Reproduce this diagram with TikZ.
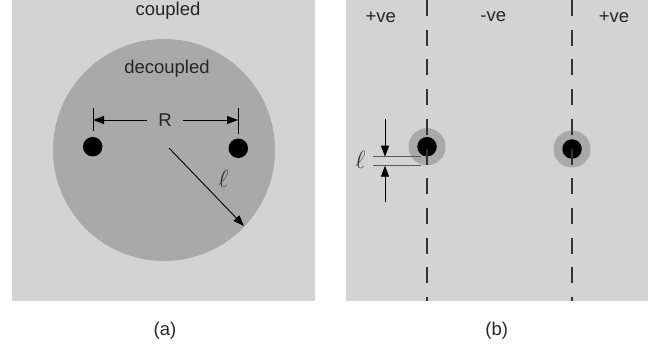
\documentclass[tikz,border=0pt]{standalone}
\usepackage{fontspec}
\setmainfont{Liberation Sans}
\usetikzlibrary{arrows.meta}

\definecolor{lightbg}{HTML}{D3D3D3}
\definecolor{darkbg}{HTML}{A9A9A9}

\tikzset{
  dot/.style={circle,fill=black,inner sep=0pt,minimum size=19.5pt},
  halo/.style={circle,fill=darkbg,inner sep=0pt,minimum size=37pt},
  dimarrow/.style={-{Triangle[length=11pt,width=8pt]},line width=0.9pt},
  txt/.style={font=\fontsize{18.5}{22}\selectfont,text=black!85},
  ell/.style={font=\fontsize{32}{36}\selectfont,text=black!80},
}

\begin{document}
\begin{tikzpicture}[x=1pt,y=-1pt]
\useasboundingbox (0,0) rectangle (663,356);

% (a) coupled / decoupled
\fill[lightbg] (12,0) rectangle (315,301);
\fill[darkbg] (164,150) circle (111);

\node[txt] (cpl) at (168,11) {coupled};
\node[txt] (dcpl) at (167,69) {decoupled};

\node[dot] (qa) at (92.7,146.7) {};
\node[dot] (qb) at (238.3,148.3) {};

% R
\draw[line width=0.9pt] (93,108) coordinate (ta) -- (93,131);
\draw[line width=0.9pt] (238,108) -- (238,134);
\coordinate (ra) at (93,120);
\coordinate (rb) at (238,120);
\node[txt,inner xsep=11pt] (rlbl) at (165,120) {R};
\draw[dimarrow] (rlbl.west) -- (ra);
\draw[dimarrow] (rlbl.east) -- (rb);

% radius
\coordinate (ctr) at (169,148);
\coordinate (rim) at (244,226);
\draw[dimarrow] (ctr) -- (rim);
\node[ell] (la) at (223.5,179) {$\ell$};

\node[txt] (capa) at (165,331) {(a)};

% (b) +ve / -ve
\fill[lightbg] (346,0) rectangle (648,301);

\node[halo] (ha) at (427,146.7) {};
\node[halo] (hb) at (572,149) {};
\node[dot] (pa) at (427,146.7) {};
\node[dot] (pb) at (572,149) {};

\draw[line width=1.3pt,black!80,dash pattern=on 16pt off 13.7pt] (427,0) -- (427,301);
\draw[line width=1.3pt,black!80,dash pattern=on 16pt off 13.7pt] (572,0) -- (572,301);

\node[txt] (pos1) at (380.7,17) {+ve};
\node[txt] (neg) at (493.3,17) {-ve};
\node[txt] (pos2) at (614,17) {+ve};

% l
\draw[line width=0.9pt,black!65] (373,156.7) coordinate (lt) -- (421,156.7);
\draw[line width=0.9pt,black!65] (373,165.7) -- (421,165.7);
\coordinate (at) at (385,119);
\coordinate (ab) at (385,202);
\draw[dimarrow] (at) -- (385,156.7);
\draw[dimarrow] (ab) -- (385,165.7);
\node[ell] (lb) at (360.5,159.5) {$\ell$};

\node[txt] (capb) at (496.7,331) {(b)};

\end{tikzpicture}
\end{document}
